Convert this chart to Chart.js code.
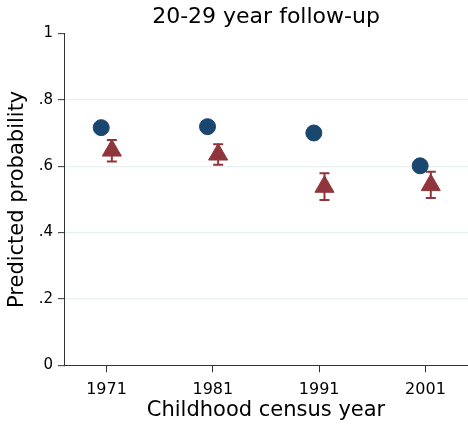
<!DOCTYPE html>
<html>
<head>
<meta charset="utf-8">
<script src="https://cdn.jsdelivr.net/npm/chart.js@4"></script>
<style>
html,body{margin:0;padding:0;background:#fff;overflow:hidden;}
#c{display:block;}
</style>
</head>
<body>
<canvas id="c" width="468" height="428"></canvas>
<script>
const years = [1971, 1981, 1991, 2001];
const xTickLabels = ['1971', '1981', '1991', '2001'];
const yTickValues = [0, 0.2, 0.4, 0.6, 0.8, 1];
const yTickLabels = ['0', '.2', '.4', '.6', '.8', '1'];
const circleSeries = [0.716, 0.719, 0.700, 0.601];
const triangleSeries = [0.647, 0.635, 0.538, 0.543];
const triangleLow = [0.614, 0.604, 0.498, 0.504];
const triangleHigh = [0.679, 0.666, 0.579, 0.583];

const dodge = 0.5;
const NAVY = '#1a476f';
const MAROON = '#90353b';
const AXIS = '#333333';
const GRID = '#e8eff1';
const FONT = "'DejaVu Sans', sans-serif";

const errorBars = {
  id: 'errorBars',
  beforeDatasetsDraw(chart) {
    const {ctx, scales: {x, y}} = chart;
    ctx.save();
    ctx.strokeStyle = MAROON;
    ctx.lineWidth = 2;
    const cap = 5;
    years.forEach((yr, i) => {
      const px = x.getPixelForValue(yr + dodge);
      const pl = y.getPixelForValue(triangleLow[i]);
      const ph = y.getPixelForValue(triangleHigh[i]);
      ctx.beginPath();
      ctx.moveTo(px, pl); ctx.lineTo(px, ph);
      ctx.moveTo(px - cap, pl); ctx.lineTo(px + cap, pl);
      ctx.moveTo(px - cap, ph); ctx.lineTo(px + cap, ph);
      ctx.stroke();
    });
    ctx.restore();
  }
};

new Chart(document.getElementById('c'), {
  type: 'scatter',
  data: {
    datasets: [
      {
        label: 'A',
        data: years.map((yr, i) => ({x: yr - dodge, y: circleSeries[i]})),
        pointStyle: 'circle',
        pointRadius: 8,
        pointHoverRadius: 8,
        backgroundColor: NAVY,
        borderColor: NAVY,
        borderWidth: 1
      },
      {
        label: 'B',
        data: years.map((yr, i) => ({x: yr + dodge, y: triangleSeries[i]})),
        pointStyle: 'triangle',
        pointRadius: 11,
        pointHoverRadius: 11,
        backgroundColor: MAROON,
        borderColor: MAROON,
        borderWidth: 1
      }
    ]
  },
  options: {
    responsive: false,
    animation: false,
    events: [],
    layout: {padding: 0, autoPadding: false},
    plugins: {
      legend: {display: false},
      tooltip: {enabled: false},
      title: {
        display: true,
        fullSize: false,
        text: '20-29 year follow-up',
        color: '#000',
        font: {family: FONT, size: 22, weight: 'normal'},
        padding: {top: 4, bottom: 3},
        align: 'center'
      }
    },
    scales: {
      x: {
        type: 'linear',
        min: 1967,
        max: 2005,
        afterBuildTicks: s => { s.ticks = years.map(v => ({value: v})); },
        afterFit: s => { s.height = 62.7; s.paddingLeft = 0; s.paddingRight = 0; },
        ticks: {
          callback: (v, i) => xTickLabels[i],
          color: '#000',
          font: {family: FONT, size: 16},
          padding: 8,
          maxRotation: 0
        },
        grid: {drawOnChartArea: false, tickLength: 7, tickColor: AXIS, tickWidth: 1},
        border: {color: AXIS, width: 1},
        title: {
          display: true,
          text: 'Childhood census year',
          color: '#000',
          font: {family: FONT, size: 21},
          padding: {top: 0, bottom: 5}
        }
      },
      y: {
        type: 'linear',
        min: 0,
        max: 1,
        afterBuildTicks: s => { s.ticks = yTickValues.map(v => ({value: v})); },
        afterFit: s => { s.width = 64; s.paddingLeft = 0; s.paddingRight = 0; },
        ticks: {
          callback: (v, i) => yTickLabels[i],
          color: '#000',
          font: {family: FONT, size: 15},
          padding: 5
        },
        grid: {
          color: c => (c.tick && (c.tick.value === 0 || c.tick.value === 1)) ? 'rgba(0,0,0,0)' : GRID,
          lineWidth: 1.3,
          tickLength: 6,
          tickColor: AXIS,
          tickWidth: 1
        },
        border: {color: AXIS, width: 1},
        title: {
          display: true,
          text: 'Predicted probability',
          color: '#000',
          font: {family: FONT, size: 21},
          padding: {top: 5, bottom: 0}
        }
      }
    }
  },
  plugins: [errorBars]
});
</script>
</body>
</html>
